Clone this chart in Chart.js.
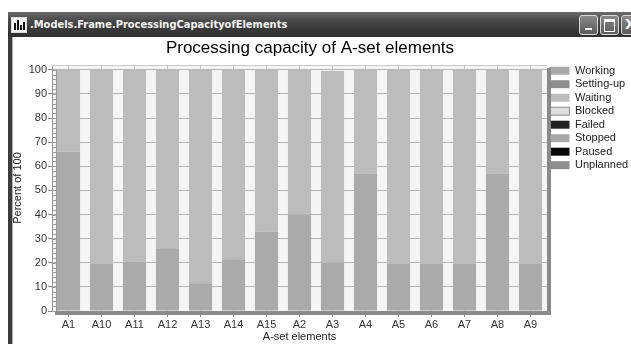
<!DOCTYPE html>
<html>
<head>
<meta charset="utf-8">
<script src="https://cdn.jsdelivr.net/npm/chart.js@4"></script>
<style>
  html, body { margin: 0; padding: 0; background: #fff; }
  body { width: 631px; height: 344px; overflow: hidden; position: relative; font-family: "Liberation Sans", Arial, sans-serif; }
  #titlebar {
    position: absolute; left: 8px; top: 12px; width: 640px; height: 25px;
    background: linear-gradient(#6b6b6b, #484848 35%, #383838 70%, #303030);
    z-index: 2;
  }
  #titlebar .text {
    position: absolute; left: 22px; top: 6px; color: #f4f4f4;
    font: bold 11px "DejaVu Sans Condensed", "DejaVu Sans", sans-serif; white-space: nowrap;
  }
  #icon {
    position: absolute; left: 3px; top: 5px; width: 14px; height: 14px;
    background: #f4f4f4; border: 1px solid #ddd;
  }
  #icon i { position: absolute; bottom: 2px; width: 2px; background: #111; }
  .btn {
    position: absolute; top: 3px; width: 17px; height: 18px; border: 1px solid #d8d8d8; border-radius: 3px;
    background: linear-gradient(#8a8a8a, #5a5a5a);
  }
  #leftborder {
    position: absolute; left: 8px; top: 37px; width: 4px; height: 310px;
    background: #3c3c3c; border-right: 1px solid #b0b0b0; z-index: 2;
  }
  #wrap { position: absolute; left: -11px; top: 37px; width: 642px; height: 307px; z-index: 1; }
</style>
</head>
<body>
<div id="titlebar">
  <div id="icon"><i style="left:2px;height:7px"></i><i style="left:5px;height:10px"></i><i style="left:8px;height:5px"></i><i style="left:11px;height:8px"></i></div>
  <div class="text">.Models.Frame.ProcessingCapacityofElements</div>
  <div class="btn" style="left:571px"><div style="position:absolute;left:5px;top:12px;width:7px;height:2px;background:#fff"></div></div>
  <div class="btn" style="left:592px"><div style="position:absolute;left:3px;top:3px;width:9px;height:9px;border:1px solid #fff;border-top-width:3px"></div></div>
  <div class="btn" style="left:613px"><div style="position:absolute;left:3px;top:0px;color:#fff;font:bold 14px 'DejaVu Sans',sans-serif">X</div></div>
</div>
<div id="leftborder"></div>
<div id="wrap"><canvas id="chart" width="642" height="307"></canvas></div>

<script>
// categories and series (percent of 100)
const elements = ['A1', 'A10', 'A11', 'A12', 'A13', 'A14', 'A15', 'A2', 'A3', 'A4', 'A5', 'A6', 'A7', 'A8', 'A9'];
const working   = [66, 19.5, 20.5, 26, 11.5, 21.5, 33, 40, 20, 57, 19.5, 19.5, 19.5, 57, 19.5];
const settingUp = [0, 0, 0, 0, 0, 0, 0, 0, 0, 0, 0, 0, 0, 0, 0];
const waiting   = [34, 80.5, 79.5, 74, 88.5, 78.5, 67, 60, 79.5, 43, 80.5, 80.5, 80.5, 43, 80.5];
const blocked   = [0, 0, 0, 0, 0, 0, 0, 0, 0, 0, 0, 0, 0, 0, 0];
const failed    = [0, 0, 0, 0, 0, 0, 0, 0, 0, 0, 0, 0, 0, 0, 0];
const stopped   = [0, 0, 0, 0, 0, 0, 0, 0, 0, 0, 0, 0, 0, 0, 0];
const paused    = [0, 0, 0, 0, 0, 0, 0, 0, 0, 0, 0, 0, 0, 0, 0];
const unplanned = [0, 0, 0, 0, 0, 0, 0, 0, 0, 0, 0, 0, 0, 0, 0];
const yTicks = [0, 10, 20, 30, 40, 50, 60, 70, 80, 90, 100];

const font = { family: '"Liberation Sans", Arial, sans-serif', size: 11 };

// plot background, shadow bands and minor ticks
const plotDecor = {
  id: 'plotDecor',
  beforeDraw(chart) {
    const { ctx, chartArea: a } = chart;
    ctx.save();
    ctx.fillStyle = '#f4f5f4';
    ctx.fillRect(a.left, a.top, a.right - a.left, a.bottom - a.top);
    ctx.restore();
  },
  afterDatasetsDraw(chart) {
    const { ctx, chartArea: a } = chart;
    const y = chart.scales.y;
    ctx.save();
    ctx.fillStyle = '#8a8a8a';
    ctx.fillRect(a.left + 3, a.bottom, a.right - a.left + 1, 4);
    ctx.fillRect(a.right, a.top + 3, 4, a.bottom - a.top + 1);
    ctx.strokeStyle = '#c8c8c8';
    ctx.lineWidth = 1;
    ctx.beginPath();
    ctx.moveTo(a.left, a.top + 0.5);
    ctx.lineTo(a.right, a.top + 0.5);
    ctx.stroke();
    ctx.strokeStyle = '#9a9a9a';
    ctx.beginPath();
    for (let v = 0; v <= 100; v += 2) {
      const py = Math.round(y.getPixelForValue(v)) + 0.5;
      ctx.moveTo(a.left, py);
      ctx.lineTo(a.left + 4, py);
    }
    ctx.moveTo(a.left + 4.5, y.getPixelForValue(100));
    ctx.lineTo(a.left + 4.5, a.bottom);
    ctx.stroke();
    ctx.restore();
  }
};

const mk = (label, data, color) => ({ label, data, backgroundColor: color, borderWidth: 0, barPercentage: 0.7, categoryPercentage: 1.0 });

new Chart(document.getElementById('chart'), {
  type: 'bar',
  data: {
    labels: elements,
    datasets: [
      mk('Working', working, '#aaaaaa'),
      mk('Setting-up', settingUp, '#8e8e8e'),
      mk('Waiting', waiting, '#bcbcbc'),
      mk('Blocked', blocked, '#dedede'),
      mk('Failed', failed, '#222222'),
      mk('Stopped', stopped, '#a9a9a9'),
      mk('Paused', paused, '#080808'),
      mk('Unplanned', unplanned, '#8f8f8f')
    ]
  },
  options: {
    responsive: false,
    animation: false,
    layout: { padding: 0 },
    plugins: {
      title: {
        display: true,
        text: 'Processing capacity of A-set elements',
        color: '#000',
        font: { family: font.family, size: 17, weight: 'normal' },
        padding: { top: 1, bottom: 6.6 }
      },
      legend: {
        position: 'right',
        align: 'start',
        maxWidth: 84,
        title: { display: true, text: '', font: { size: 1 }, padding: { top: 24.5, bottom: 0 } },
        labels: {
          boxWidth: 20,
          boxHeight: 8,
          padding: 2.5,
          color: '#222',
          font: font,
          generateLabels(chart) {
            const items = Chart.defaults.plugins.legend.labels.generateLabels(chart);
            items.forEach(it => {
              it.lineWidth = it.text === 'Blocked' ? 1 : 0;
              it.strokeStyle = '#8a8a8a';
            });
            return items;
          }
        }
      },
      tooltip: { enabled: false }
    },
    scales: {
      x: {
        stacked: true,
        grid: { offset: false, color: '#c4c4c4', tickLength: 6, tickColor: '#888' },
        border: { display: false },
        ticks: { color: '#333', font: font, padding: 1, autoSkip: false, maxRotation: 0 },
        title: { display: true, text: 'A-set elements', color: '#222', font: font, padding: { top: 0, bottom: 0.4 } },
        afterFit(s) { s.height = 33; }
      },
      y: {
        stacked: true,
        min: 0,
        max: 102,
        afterBuildTicks(s) { s.ticks = yTicks.map(v => ({ value: v })); },
        ticks: { color: '#333', font: font, padding: 1 },
        grid: { color: '#b4b4b4', tickLength: 4, tickColor: '#888' },
        border: { color: '#999' },
        title: { display: true, text: 'Percent of 100', color: '#222', font: font, padding: { top: 22.4, bottom: 0 } },
        afterFit(s) { s.width = 63; }
      }
    }
  },
  plugins: [plotDecor]
});
</script>
</body>
</html>
